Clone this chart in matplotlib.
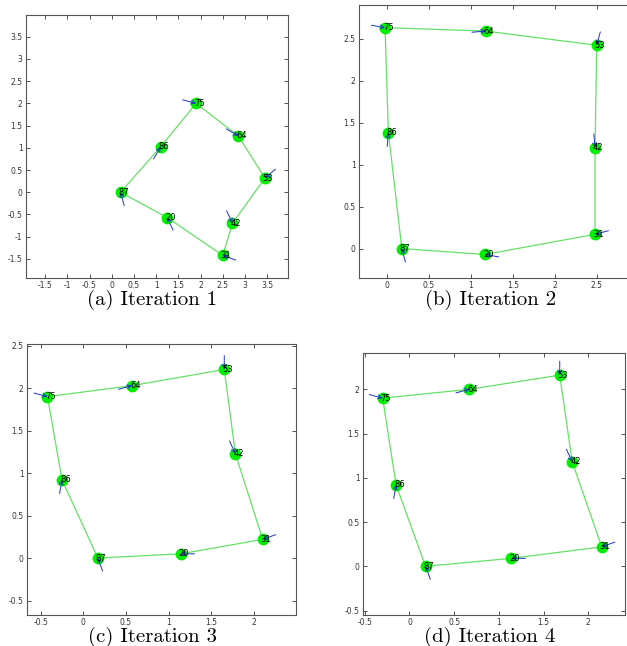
import matplotlib
matplotlib.use("Agg")
import matplotlib.pyplot as plt
import numpy as np
from matplotlib.ticker import FuncFormatter, MultipleLocator

plt.rcParams['axes.unicode_minus'] = False

node_labels = ["87", "86", "75", "64", "53", "42", "31", "20"]

# Iteration 1
x1 = [0.20, 1.10, 1.90, 2.85, 3.45, 2.72, 2.50, 1.25]
y1 = [0.00, 1.02, 2.00, 1.27, 0.32, -0.70, -1.42, -0.57]
a1 = [-75, -120, 165, 150, 40, 115, -20, -65]
# Iteration 2
x2 = [0.18, 0.02, -0.02, 1.18, 2.50, 2.48, 2.48, 1.17]
y2 = [0.00, 1.38, 2.63, 2.59, 2.42, 1.20, 0.17, -0.07]
a2 = [-75, -95, 170, 185, 75, 95, 15, -10]
# Iteration 3
x3 = [0.17, -0.25, -0.42, 0.57, 1.65, 1.78, 2.10, 1.14]
y3 = [0.00, 0.92, 1.90, 2.03, 2.22, 1.23, 0.22, 0.05]
a3 = [-70, -100, 165, 195, 90, 115, 20, 0]
# Iteration 4
x4 = [0.18, -0.15, -0.30, 0.67, 1.68, 1.82, 2.15, 1.14]
y4 = [0.00, 0.92, 1.90, 2.00, 2.16, 1.18, 0.22, 0.09]
a4 = [-70, -100, 165, 195, 90, 115, 20, 0]

captions = ["(a) Iteration 1", "(b) Iteration 2", "(c) Iteration 3", "(d) Iteration 4"]

W, H = 627, 646
fig = plt.figure(figsize=(W / 100, H / 100), dpi=100)

panels = [
    dict(x=x1, y=y1, a=a1, box=(26, 15, 262, 263), xlim=(-1.93, 3.97), ylim=(-1.93, 3.99),
         cap=(152, 300)),
    dict(x=x2, y=y2, a=a2, box=(359, 5, 273, 273), xlim=(-0.33, 2.92), ylim=(-0.35, 2.90),
         cap=(491, 300)),
    dict(x=x3, y=y3, a=a3, box=(27, 344, 269, 271), xlim=(-0.66, 2.49), ylim=(-0.67, 2.52),
         cap=(152, 637)),
    dict(x=x4, y=y4, a=a4, box=(363, 353, 262, 262), xlim=(-0.52, 2.41), ylim=(-0.55, 2.41),
         cap=(490, 637)),
]

fmt = FuncFormatter(lambda v, p: "%g" % round(v, 3))

for p, cap in zip(panels, captions):
    l, t, w, h = p["box"]
    ax = fig.add_axes([l / W, (H - t - h) / H, w / W, h / H])
    xs = list(p["x"]) + [p["x"][0]]
    ys = list(p["y"]) + [p["y"][0]]
    ax.plot(xs, ys, color="#66e066", lw=0.9, zorder=1)
    ax.plot(p["x"], p["y"], "o", color="#00ee00", ms=8.5, mec="none", zorder=2)
    for xi, yi, ang, lab in zip(p["x"], p["y"], p["a"], node_labels):
        r = np.deg2rad(ang)
        ax.annotate("", xy=(xi, yi), xytext=(10 * np.cos(r), 10 * np.sin(r)),
                    textcoords="offset points",
                    arrowprops=dict(arrowstyle="->", color="#2233cc", lw=0.7,
                                    shrinkA=0, shrinkB=0, mutation_scale=7), zorder=3)
        ax.annotate(lab, xy=(xi, yi), xytext=(-1.5, 0), textcoords="offset points",
                    fontsize=6, color="black", va="center", ha="left", zorder=4)
    ax.set_xlim(*p["xlim"])
    ax.set_ylim(*p["ylim"])
    ax.xaxis.set_major_locator(MultipleLocator(0.5))
    ax.yaxis.set_major_locator(MultipleLocator(0.5))
    ax.xaxis.set_major_formatter(fmt)
    ax.yaxis.set_major_formatter(fmt)
    ax.tick_params(direction="in", top=True, right=True, length=3, width=0.6,
                   labelsize=5.5, colors="#333333", pad=2.5)
    for s in ax.spines.values():
        s.set_color("#555555")
        s.set_linewidth(0.8)
    cx, cy = p["cap"]
    fig.text(cx / W, (H - cy) / H, cap, ha="center", va="center",
             fontsize=15, family="cmr10")

fig.savefig("out.png", dpi=100)
